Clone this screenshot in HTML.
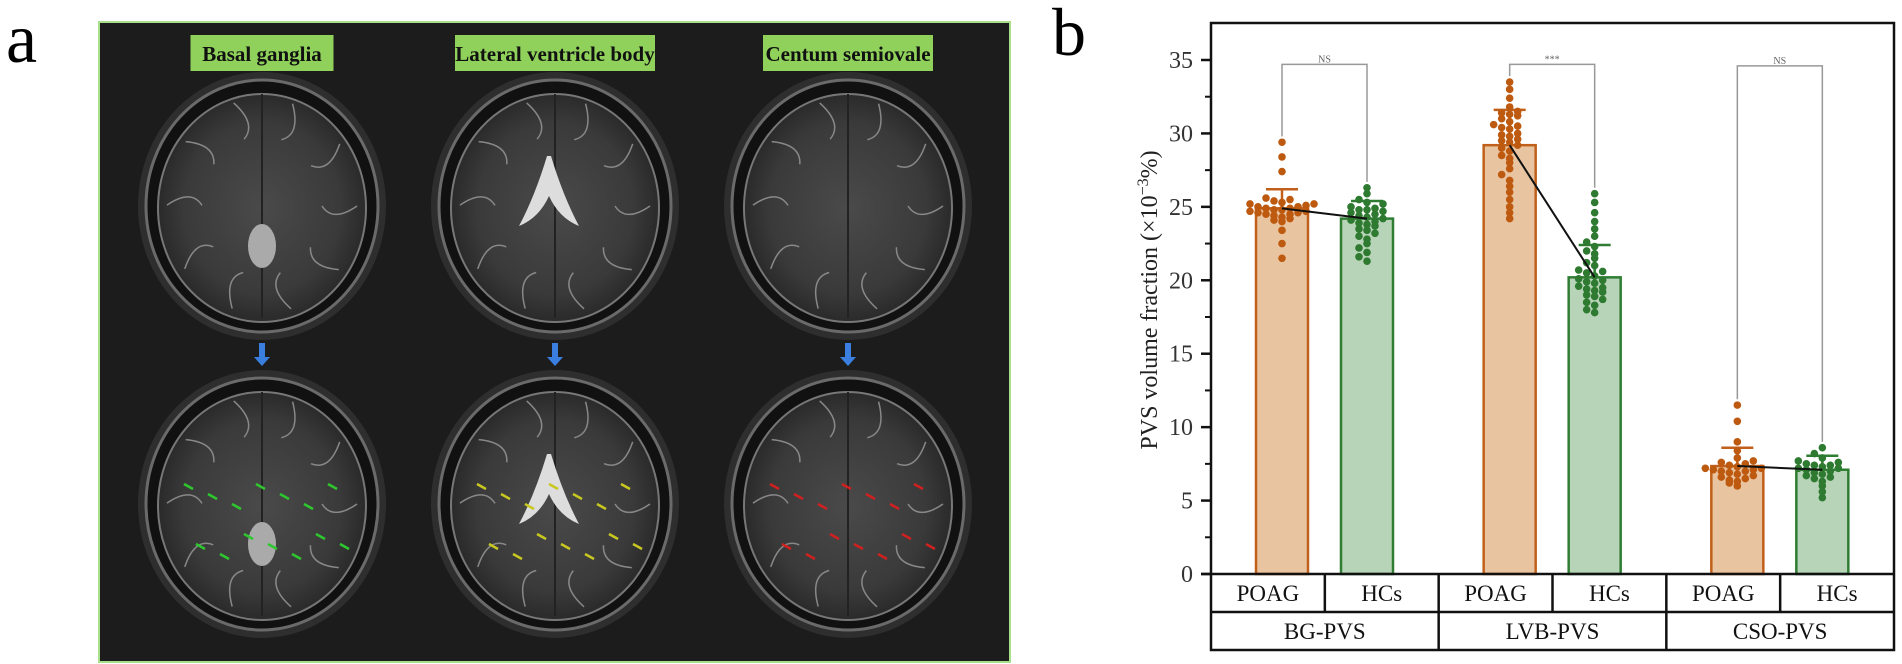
<!DOCTYPE html>
<html><head><meta charset="utf-8">
<style>
html,body{margin:0;padding:0;background:#fff;}
svg{display:block;font-family:"Liberation Serif",serif;}
</style></head>
<body>
<svg id="fig" width="1902" height="664" viewBox="0 0 1902 664" xmlns="http://www.w3.org/2000/svg">
<defs>
  <radialGradient id="brainG" cx="50%" cy="50%" r="50%">
    <stop offset="0" stop-color="#4a4a4a"/>
    <stop offset="0.75" stop-color="#3a3a3a"/>
    <stop offset="1" stop-color="#2a2a2a"/>
  </radialGradient>
</defs>
<text x="6" y="62" font-size="70">a</text>
<g id="panelA">
  <rect x="99" y="22" width="911" height="640" fill="#1c1c1c" stroke="#a8e08a" stroke-width="2"/>
</g>
<text x="1052" y="55" font-size="68">b</text>
<g id="chart"></g>
</svg>
<script>
// ---------- Panel a (MRI illustration) ----------
const colTitles = ["Basal ganglia","Lateral ventricle body","Centum semiovale"];
const NS="http://www.w3.org/2000/svg";
function mk(tag,attrs,parent){const e=document.createElementNS(NS,tag);for(const k in attrs)e.setAttribute(k,attrs[k]);parent.appendChild(e);return e;}
const pA=document.getElementById('panelA');
const colX=[262,555,848];
const strokeCols=["#2ec82e","#c8c820","#d02020"];
colX.forEach((cx,ci)=>{
  const w = ci===0?143:(ci===1?200:170);
  const lb=mk('rect',{x:cx-w/2,y:35,width:w,height:36,fill:'#8fd15a'},pA);
  
  
  const t=mk('text',{x:cx,y:61,'font-size':21,'font-weight':'bold','text-anchor':'middle',fill:'#111'},pA);
  t.textContent=colTitles[ci];
  
  
  [206,504].forEach((cy,ri)=>{
    const g=mk('g',{},pA);
    
    
    mk('ellipse',{cx:cx,cy:cy,rx:124,ry:134,fill:'#2e2e2e'},g);
    mk('ellipse',{cx:cx,cy:cy,rx:116,ry:126,fill:'#111',stroke:'#6a6a6a','stroke-width':3},g);
    mk('ellipse',{cx:cx,cy:cy+2,rx:104,ry:114,fill:'url(#brainG)',stroke:'#777','stroke-width':2},g);
    mk('line',{x1:cx,y1:cy-112,x2:cx,y2:cy+112,stroke:'#222','stroke-width':2},g);
    for(let k=0;k<10;k++){
      const a=k*0.63;
      mk('path',{d:`M${cx+Math.cos(a)*60} ${cy+Math.sin(a)*70} q${Math.cos(a+1)*20} ${Math.sin(a+1)*20} ${Math.cos(a)*35} ${Math.sin(a)*38}`,stroke:'#888','stroke-width':1.5,fill:'none'},g);
    }
    if(ci===1){
      mk('path',{d:`M${cx-8} ${cy-50} q-12 40 -28 70 q20 -8 30 -30 q10 22 30 30 q-16 -30 -28 -70 z`,fill:'#ddd'},g);
    } else if(ci===0){
      mk('ellipse',{cx:cx,cy:cy+40,rx:14,ry:22,fill:'#aaa'},g);
    }
    if(ri===1){
      for(let k=0;k<14;k++){
        const sx=cx+((k%7)-3)*24+(k<7?-6:6), sy=cy-20+Math.floor(k/7)*50+(k%3)*10;
        mk('line',{x1:sx,y1:sy,x2:sx+9,y2:sy+5,stroke:strokeCols[ci],'stroke-width':2.5},g);
      }
    }
  });
  const ar=mk('path',{d:`M${cx-3} 343 h6 v14 h5 l-8 9 l-8 -9 h5 z`,fill:'#3a7fe0'},pA);
  
  
});

// ---------- Panel b (bar chart) data ----------
const groups = ["BG-PVS","LVB-PVS","CSO-PVS"];
const subgroups = ["POAG","HCs"];
const meanPOAG = [24.9, 29.2, 7.35];
const meanHCs  = [24.2, 20.2, 7.1];
const sdPOAG   = [1.3, 2.4, 1.25];
const sdHCs    = [1.2, 2.2, 0.95];
const ptsBG_POAG = [29.4,28.4,27.4,25.6,25.5,25.4,25.3,25.2,25.2,25.1,25.0,25.0,24.9,24.9,24.8,24.8,24.7,24.7,24.6,24.6,24.5,24.5,24.4,24.3,24.2,24.1,24.0,23.4,22.5,21.5];
const ptsBG_HCs = [26.3,25.9,25.5,25.3,25.2,25.0,24.9,24.8,24.8,24.6,24.5,24.4,24.3,24.2,24.1,24.0,23.9,23.8,23.7,23.5,23.4,23.2,23.0,22.8,22.5,22.2,21.9,21.6,21.3,24.7];
const ptsLVB_POAG = [33.5,33.0,32.4,31.8,31.5,31.4,31.3,31.2,31.0,30.8,30.6,30.5,30.3,30.0,29.8,29.6,29.5,29.4,29.2,29.0,28.8,28.5,28.3,28.0,27.6,27.2,26.8,26.4,26.0,25.5,25.0,24.6,24.2,29.9,30.4];
const ptsLVB_HCs = [25.9,25.3,24.6,24.0,23.5,23.0,22.6,22.3,22.0,21.8,21.5,21.2,21.0,20.7,20.5,20.3,20.1,20.0,19.8,19.6,19.5,19.4,19.2,19.0,18.9,18.7,18.5,18.3,18.0,17.8,19.9,20.6,19.3];
const ptsCSO_POAG = [11.5,10.4,9.0,8.4,7.9,7.6,7.5,7.4,7.3,7.2,7.2,7.1,7.0,7.0,6.9,6.8,6.7,6.6,6.5,6.4,6.3,6.2,6.0,7.7,7.1];
const ptsCSO_HCs = [8.6,8.2,7.9,7.7,7.6,7.5,7.4,7.3,7.2,7.1,7.0,6.9,6.8,6.7,6.6,6.5,6.3,6.0,5.6,5.2,7.4,7.2];
const sigLabels = ["NS","***","NS"];
const bracketY = [34.7, 34.7, 34.6];
const yTicks = [0,5,10,15,20,25,30,35];

const ptsPOAG=[ptsBG_POAG,ptsLVB_POAG,ptsCSO_POAG];
const ptsHCs=[ptsBG_HCs,ptsLVB_HCs,ptsCSO_HCs];

// ---------- layout ----------
const X0=1211, X1=1894, YT=23, Y0=574, R1=612, R2=650;
const yMax=35, pxPer=(574-60)/35;
function yS(v){return Y0-v*pxPer;}
const gW=(X1-X0)/3;
function barCenter(gi,si){return X0+gi*gW+(si===0?71:156);}
const barW=52;
const C={pf:'#e9c4a0',ps:'#c0601a',pd:'#bd5a10',hf:'#b8d4b8',hs:'#2f7d33',hd:'#2e7a30'};
const ch=document.getElementById('chart');

// axis ticks
yTicks.forEach(v=>{
  const l=mk('line',{x1:X0-10,y1:yS(v),x2:X0,y2:yS(v),stroke:'#111','stroke-width':2.5},ch);
  
  
  const t=mk('text',{x:X0-18,y:yS(v)+8,'font-size':24,'text-anchor':'end',fill:'#333'},ch);
  t.textContent=v;
  
  
  if(v<yMax){
    const m=mk('line',{x1:X0-6,y1:yS(v+2.5),x2:X0,y2:yS(v+2.5),stroke:'#111','stroke-width':2},ch);
    
    
  }
});
const yl=mk('text',{transform:'translate(1157,300) rotate(-90)','font-size':24,'text-anchor':'middle',fill:'#222'},ch);
yl.innerHTML='PVS volume fraction (×10<tspan dy="-9" font-size="16">−3</tspan><tspan dy="9">%)</tspan>';



// bars, points
groups.forEach((g,gi)=>{
  [0,1].forEach(si=>{
    const m = si===0?meanPOAG[gi]:meanHCs[gi];
    const sd= si===0?sdPOAG[gi]:sdHCs[gi];
    const pts= si===0?ptsPOAG[gi]:ptsHCs[gi];
    const cx=barCenter(gi,si);
    const fill=si===0?C.pf:C.hf, st=si===0?C.ps:C.hs, dc=si===0?C.pd:C.hd;
    const b=mk('rect',{x:cx-barW/2,y:yS(m),width:barW,height:Y0-yS(m),fill:fill,stroke:st,'stroke-width':2.5},ch);
    
    
    const eg=mk('g',{stroke:st,'stroke-width':2.5},ch);
    
    
    mk('line',{x1:cx,y1:yS(m),x2:cx,y2:yS(m+sd)},eg);
    mk('line',{x1:cx-16,y1:yS(m+sd),x2:cx+16,y2:yS(m+sd)},eg);
    const sorted=pts.slice().sort((a,b)=>a-b);
    const counts={};
    sorted.forEach((v,i)=>{
      const key=Math.round(v*2);
      const n=counts[key]||0; counts[key]=n+1;
      const off=(n%2===0?1:-1)*Math.ceil(n/2)*8;
      const c=mk('circle',{cx:cx+off,cy:yS(v),r:3.8,fill:dc},ch);
      
      
    });
  });
  const ml=mk('line',{x1:barCenter(gi,0),y1:yS(meanPOAG[gi]),x2:barCenter(gi,1),y2:yS(meanHCs[gi]),stroke:'#111','stroke-width':2},ch);
  
  
  // bracket
  const by=yS(bracketY[gi]);
  const lEnd=yS(Math.max(...ptsPOAG[gi])+0.4), rEnd=yS(Math.max(...ptsHCs[gi])+0.4);
  const br=mk('path',{d:`M${barCenter(gi,0)} ${lEnd} V${by} H${barCenter(gi,1)} V${rEnd}`,stroke:'#999','stroke-width':1.5,fill:'none'},ch);
  
  
  const sl=mk('text',{x:(barCenter(gi,0)+barCenter(gi,1))/2,y:by-2,'font-size':10,'text-anchor':'middle',fill:'#666'},ch);
  sl.textContent=sigLabels[gi];
  
  
  // category labels
  [0,1].forEach(si=>{
    const t=mk('text',{x:X0+gi*gW+gW/4+si*gW/2,y:601,'font-size':23,'text-anchor':'middle',fill:'#111'},ch);
    t.textContent=subgroups[si];
    
    
  });
  const gt=mk('text',{x:X0+gi*gW+gW/2,y:639,'font-size':23,'text-anchor':'middle',fill:'#111'},ch);
  gt.textContent=g;
  
  
});

// frame and table lines
const fr=mk('g',{stroke:'#111','stroke-width':2.5,fill:'none'},ch);


mk('rect',{x:X0,y:YT,width:X1-X0,height:R2-YT},fr);
mk('line',{x1:X0-10,y1:Y0,x2:X1,y2:Y0},fr);
mk('line',{x1:X0,y1:R1,x2:X1,y2:R1},fr);
for(let gi=0;gi<3;gi++){
  mk('line',{x1:X0+gi*gW+gW/2,y1:Y0,x2:X0+gi*gW+gW/2,y2:R1},fr);
  if(gi>0) mk('line',{x1:X0+gi*gW,y1:Y0,x2:X0+gi*gW,y2:R2},fr);
}
</script>
</body></html>
